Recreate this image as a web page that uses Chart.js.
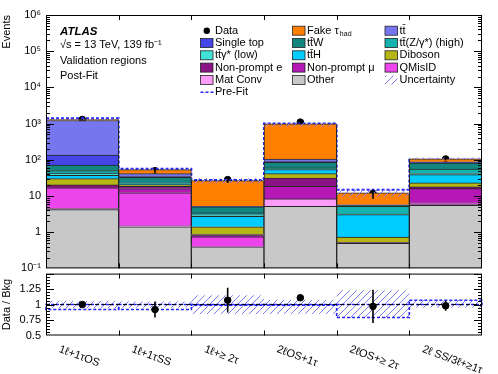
<!DOCTYPE html>
<html>
<head>
<meta charset="utf-8">
<script src="https://cdn.jsdelivr.net/npm/chart.js@4.4.0/dist/chart.umd.min.js"></script>
<style>
  html, body { margin: 0; padding: 0; background: #fff; }
  #wrap { position: relative; width: 498px; height: 374px; }
  .box { position: absolute; left: 0; width: 498px; }
  #mainBox { top: 0; height: 280px; }
  #ratioBox { top: 262px; height: 112px; }
</style>
</head>
<body>
<div id="wrap">
  <div class="box" id="mainBox"><canvas id="main_chart"></canvas></div>
  <div class="box" id="ratioBox"><canvas id="ratio_chart"></canvas></div>
</div>
<script>
// regions (bins)
const regionLabels = ['1ℓ+1τOS', '1ℓ+1τSS', '1ℓ+≥ 2τ', '2ℓOS+1τ', '2ℓOS+≥ 2τ', '2ℓ SS/3ℓ+≥1τ'];

// post-fit background yields, bottom of the stack first
const otherBkg    = [4.2, 1.4, 0.395, 5.2, 0.49, 5.5];
const matConv     = [0.3, 0.1, null, 3.1, null, 0.4];
const qMisId      = [12.2, 10.7, 0.35, null, null, 0.6];
const nonPromptMu = [0.8, 3.8, 0.06, 10.2, null, 9.5];
const nonPromptE  = [2.7, 2.5, 0.06, 12.9, 0.03, 1.8];
const diboson     = [9.9, 2.1, 0.55, 10, 0.21, 5.2];
const ttH         = [7.1, 1.2, 1.35, 11.9, 2.34, 15.8];
const ttGammaLow  = [6.1, 0.8, 0.25, 4, 0.1, 3];
const ttZHigh     = [6.8, 1.2, 0.4, 6, 2.0, 14];
const ttW         = [21.8, 8.9, 1.6, 21.5, 0.3, 25.9];
const singleTop   = [63.6, 1.5, 0.05, 4, 0.05, 1.5];
const ttbar       = [1085, 7.2, 0.1, 16, 0.2, 5];
const fakeTau     = [80, 12, 21.5, 882, 6.5, 19];

// data and pre-fit
const dataEvents = [1300, 50, 28.3, 1097, 11.8, 105];
const dataErr    = [36, 7, 5.3, 33, 3.4, 10];
const preFit     = [1410, 57, 27.5, 1000, 15, 100];

// ratio panel
const ratioData    = [1.0, 0.92, 1.07, 1.11, 0.97, 0.98];
const ratioDataErr = [0.03, 0.13, 0.2, 0.03, 0.27, 0.08];
const ratioPreFit  = [0.92, 0.92, 0.99, 0.99, 0.79, 1.07];
const uncLow       = [0.94, 0.95, 0.845, 0.85, 0.785, 0.95];
const uncHigh      = [1.06, 1.05, 1.15, 1.075, 1.23, 1.075];

const logTickLabels   = ['10⁻¹', '1', '10', '10²', '10³', '10⁴', '10⁵', '10⁶'];
const ratioTickLabels = ['0.5', '0.75', '1', '1.25'];

const samples = [
  { name: 'Other', values: otherBkg, color: '#c8c8c8' },
  { name: 'Mat Conv', values: matConv, color: '#fb9cf8' },
  { name: 'QMisID', values: qMisId, color: '#ec45ec' },
  { name: 'Non-prompt μ', values: nonPromptMu, color: '#b518b5' },
  { name: 'Non-prompt e', values: nonPromptE, color: '#8a1485' },
  { name: 'Diboson', values: diboson, color: '#b5b516' },
  { name: 'tt̄H', values: ttH, color: '#00ccff' },
  { name: 'tt̄γ* (low)', values: ttGammaLow, color: '#40e2d6' },
  { name: 'tt̄(Z/γ*) (high)', values: ttZHigh, color: '#15b3ae' },
  { name: 'tt̄W', values: ttW, color: '#138680' },
  { name: 'Single top', values: singleTop, color: '#4545e8' },
  { name: 'tt̄', values: ttbar, color: '#7676ee' },
  { name: 'Fake τhad', values: fakeTau, color: '#ff7f00' },
];

const FONT = '"Liberation Sans", Arial, sans-serif';
Chart.defaults.font.family = FONT;
Chart.defaults.color = '#000';

function makeHatch(ctx) {
  const c = document.createElement('canvas');
  c.width = 7; c.height = 7;
  const g = c.getContext('2d');
  g.strokeStyle = '#7b7bef';
  g.lineWidth = 1;
  g.beginPath();
  g.moveTo(0, 7); g.lineTo(7, 0);
  g.moveTo(-1, 1); g.lineTo(1, -1);
  g.moveTo(6, 8); g.lineTo(8, 6);
  g.stroke();
  return ctx.createPattern(c, 'repeat');
}

// totals for the hatched band
const totals = regionLabels.map((_, i) => samples.reduce((s, smp) => s + (smp.values[i] || 0), 0));

function isDecade(v) {
  const l = Math.log10(v);
  return Math.abs(l - Math.round(l)) < 1e-6;
}

// frame with inward ticks
function drawFrame(chart, marks) {
  const { ctx, chartArea: a, scales: { x, y } } = chart;
  ctx.save();
  ctx.strokeStyle = '#000';
  ctx.lineWidth = 1;
  ctx.strokeRect(a.left + 0.5, a.top + 0.5, a.width - 1, a.height - 1);
  ctx.beginPath();
  for (let i = 1; i < regionLabels.length; i++) {
    const px = Math.round(x.getPixelForValue(i)) + 0.5;
    ctx.moveTo(px, a.top); ctx.lineTo(px, a.top + 5);
    ctx.moveTo(px, a.bottom); ctx.lineTo(px, a.bottom - 5);
  }
  marks.forEach(([v, len]) => {
    const py = Math.round(y.getPixelForValue(v)) + 0.5;
    if (py < a.top || py > a.bottom) return;
    ctx.moveTo(a.left, py); ctx.lineTo(a.left + len, py);
    ctx.moveTo(a.right, py); ctx.lineTo(a.right - len, py);
  });
  ctx.stroke();
  ctx.restore();
}

function drawHatchBand(chart, lows, highs) {
  const { ctx, chartArea: a, scales: { x, y } } = chart;
  ctx.save();
  ctx.beginPath();
  ctx.rect(a.left, a.top, a.width, a.height);
  ctx.clip();
  ctx.fillStyle = makeHatch(ctx);
  lows.forEach((lo, i) => {
    const x0 = x.getPixelForValue(i), x1 = x.getPixelForValue(i + 1);
    const yTop = y.getPixelForValue(highs[i]), yBot = y.getPixelForValue(lo);
    ctx.fillRect(x0, yTop, x1 - x0, yBot - yTop);
  });
  ctx.restore();
}

function drawErrorBars(chart, values, errs) {
  const { ctx, scales: { x, y } } = chart;
  ctx.save();
  ctx.strokeStyle = '#000';
  ctx.lineWidth = 1.6;
  ctx.beginPath();
  values.forEach((v, i) => {
    const px = x.getPixelForValue(i + 0.5);
    ctx.moveTo(px, y.getPixelForValue(v + errs[i]));
    ctx.lineTo(px, y.getPixelForValue(v - errs[i]));
  });
  ctx.stroke();
  ctx.restore();
}

const legendCols = [200.5, 292.5, 385];
const legendRows = [30.7, 43, 55.3, 67.6, 80, 92.3];
const legendItems = [
  ['Data', 'dot', 0, 0], ['Single top', 'box', 0, 1], ['tt̄γ* (low)', 'box', 0, 2],
  ['Non-prompt e', 'box', 0, 3], ['Mat Conv', 'box', 0, 4], ['Pre-Fit', 'dash', 0, 5],
  ['Fake τhad', 'box', 1, 0], ['tt̄W', 'box', 1, 1], ['tt̄H', 'box', 1, 2],
  ['Non-prompt μ', 'box', 1, 3], ['Other', 'box', 1, 4],
  ['tt̄', 'box', 2, 0], ['tt̄(Z/γ*) (high)', 'box', 2, 1], ['Diboson', 'box', 2, 2],
  ['QMisID', 'box', 2, 3], ['Uncertainty', 'hatch', 2, 4],
];

const mainDecor = {
  id: 'mainDecor',
  afterDatasetDraw(chart, args) {
    if (args.index === samples.length - 1) {
      drawHatchBand(chart, totals.map((t, i) => t * uncLow[i]), totals.map((t, i) => t * uncHigh[i]));
    }
  },
  afterDatasetsDraw(chart) {
    drawErrorBars(chart, dataEvents, dataErr);
  },
  afterDraw(chart) {
    const marks = [];
    for (let e = -1; e <= 5; e++) {
      for (let m = 1; m <= 9; m++) marks.push([m * Math.pow(10, e), m === 1 ? 8 : 4]);
    }
    marks.push([1e6, 8]);
    drawFrame(chart, marks);

    const ctx = chart.ctx;
    ctx.save();
    ctx.fillStyle = '#000';
    ctx.textBaseline = 'middle';
    ctx.font = 'italic bold 11.5px ' + FONT;
    ctx.fillText('ATLAS', 60, 31.7);
    ctx.font = '11px ' + FONT;
    ctx.fillText('√s = 13 TeV, 139 fb⁻¹', 60, 45);
    ctx.fillText('Validation regions', 60, 61);
    ctx.fillText('Post-Fit', 60, 76);

    legendItems.forEach(([label, kind, col, row]) => {
      const x0 = legendCols[col], yc = legendRows[row];
      const smp = samples.find(s => s.name === label);
      if (kind === 'box') {
        ctx.fillStyle = smp.color;
        ctx.fillRect(x0, yc - 4.5, 12.5, 9);
        ctx.strokeStyle = '#222';
        ctx.lineWidth = 0.8;
        ctx.strokeRect(x0, yc - 4.5, 12.5, 9);
      } else if (kind === 'dot') {
        ctx.fillStyle = '#000';
        ctx.beginPath();
        ctx.arc(x0 + 6.3, yc, 3.2, 0, Math.PI * 2);
        ctx.fill();
      } else if (kind === 'dash') {
        ctx.strokeStyle = '#2424ff';
        ctx.lineWidth = 1.6;
        ctx.setLineDash([3, 2]);
        ctx.beginPath();
        ctx.moveTo(x0, yc); ctx.lineTo(x0 + 13, yc);
        ctx.stroke();
        ctx.setLineDash([]);
      } else if (kind === 'hatch') {
        ctx.fillStyle = makeHatch(ctx);
        ctx.fillRect(x0, yc - 4.5, 12.5, 9);
      }
      ctx.fillStyle = '#000';
      ctx.font = '11px ' + FONT;
      if (label === 'Fake τhad') {
        ctx.fillText('Fake τ', x0 + 14.5, yc);
        const w = ctx.measureText('Fake τ').width;
        ctx.font = '7px ' + FONT;
        ctx.fillText('had', x0 + 15.5 + w, yc + 3);
      } else {
        ctx.fillText(label, x0 + 14.5, yc);
      }
    });
    ctx.restore();
  }
};

const ratioDecor = {
  id: 'ratioDecor',
  beforeDatasetsDraw(chart) {
    drawHatchBand(chart, uncLow, uncHigh);
    const { ctx, scales: { x, y } } = chart;
    ctx.save();
    ctx.strokeStyle = '#2424ff';
    ctx.lineWidth = 1.6;
    ctx.setLineDash([3, 2]);
    ratioPreFit.forEach((r, i) => {
      const x0 = x.getPixelForValue(i), x1 = x.getPixelForValue(i + 1);
      const y0 = y.getPixelForValue(1), y1 = y.getPixelForValue(r);
      ctx.strokeRect(x0, Math.min(y0, y1), x1 - x0, Math.abs(y1 - y0));
    });
    ctx.restore();
  },
  afterDatasetsDraw(chart) {
    drawErrorBars(chart, ratioData, ratioDataErr);
  },
  afterDraw(chart) {
    const marks = [];
    for (let k = 0; k <= 20; k++) marks.push([0.5 + k * 0.05, k % 5 === 0 ? 8 : 4]);
    drawFrame(chart, marks);
    const { ctx, scales: { x } } = chart;
    ctx.save();
    ctx.fillStyle = '#000';
    ctx.font = '11px ' + FONT;
    ctx.textBaseline = 'middle';
    ctx.textAlign = 'left';
    regionLabels.forEach((lab, i) => {
      ctx.save();
      ctx.translate(x.getPixelForValue(i + 0.5) - 23, 87);
      ctx.rotate(0.35);
      ctx.fillText(lab, 0, 0);
      ctx.restore();
    });
    ctx.restore();
  }
};

const xScale = {
  type: 'linear', min: 0, max: regionLabels.length, stacked: true, offset: false,
  afterBuildTicks(s) { s.ticks = regionLabels.map((_, i) => ({ value: i })).concat([{ value: regionLabels.length }]); },
  afterFit(s) { s.height = 0; },
  ticks: { display: false },
  grid: { display: false, drawTicks: false, offset: false },
  border: { display: false },
};

// main panel
const barSets = samples.map(smp => ({
  type: 'bar',
  label: smp.name,
  data: smp.values.map((v, i) => ({ x: i + 0.5, y: v })),
  backgroundColor: smp.color,
  borderColor: '#262626',
  borderWidth: 1,
  barPercentage: 1,
  categoryPercentage: 1,
}));

const preFitStep = preFit.map((v, i) => ({ x: i, y: v })).concat([{ x: preFit.length, y: preFit[preFit.length - 1] }]);

new Chart(document.getElementById('main_chart').getContext('2d'), {
  data: {
    datasets: barSets.concat([
      {
        type: 'line', label: 'Pre-Fit', stack: 'prefit', data: preFitStep, stepped: true,
        borderColor: '#2424ff', borderWidth: 2, borderDash: [3, 2], pointRadius: 0, fill: false,
      },
      {
        type: 'line', label: 'Data', stack: 'data', showLine: false,
        data: dataEvents.map((v, i) => ({ x: i + 0.5, y: v })),
        pointRadius: 3.3, pointBackgroundColor: '#000', pointBorderColor: '#000',
      },
    ]),
  },
  options: {
    responsive: true,
    maintainAspectRatio: false,
    animation: false,
    layout: { padding: { top: 15, right: 16, bottom: 11, left: 0 } },
    plugins: { legend: { display: false }, tooltip: { enabled: false } },
    scales: {
      x: xScale,
      y: {
        type: 'logarithmic', min: 0.1, max: 1e6, stacked: true,
        afterFit(s) { s.width = 46; },
        grid: { display: false, drawTicks: false },
        border: { display: false },
        ticks: {
          autoSkip: false, padding: 5, font: { size: 11 },
          callback: v => isDecade(v) ? logTickLabels[Math.round(Math.log10(v)) + 1] : '',
        },
        title: { display: true, text: 'Events', align: 'end', font: { size: 11 }, padding: { top: 0, bottom: 0 } },
      },
    },
  },
  plugins: [mainDecor],
});

// ratio panel
new Chart(document.getElementById('ratio_chart').getContext('2d'), {
  data: {
    datasets: [
      {
        type: 'line', label: 'one', data: [{ x: 0, y: 1 }, { x: regionLabels.length, y: 1 }],
        borderColor: '#000', borderWidth: 1, borderDash: [4, 3], pointRadius: 0,
      },
      {
        type: 'line', label: 'Data / Bkg', showLine: false,
        data: ratioData.map((v, i) => ({ x: i + 0.5, y: v })),
        pointRadius: 3.3, pointBackgroundColor: '#000', pointBorderColor: '#000',
      },
    ],
  },
  options: {
    responsive: true,
    maintainAspectRatio: false,
    animation: false,
    layout: { padding: { top: 7, right: 16, bottom: 38.5, left: 0 } },
    plugins: { legend: { display: false }, tooltip: { enabled: false } },
    scales: {
      x: Object.assign({}, xScale, { stacked: false }),
      y: {
        type: 'linear', min: 0.5, max: 1.5,
        afterFit(s) { s.width = 46; },
        afterBuildTicks(s) { s.ticks = ratioTickLabels.map(t => ({ value: parseFloat(t) })); },
        grid: { display: false, drawTicks: false },
        border: { display: false },
        ticks: { autoSkip: false, padding: 5, font: { size: 11 }, callback: (v, i) => ratioTickLabels[i] },
        title: { display: true, text: 'Data / Bkg', font: { size: 11 }, padding: { top: 0, bottom: 0 } },
      },
    },
  },
  plugins: [ratioDecor],
});
</script>
</body>
</html>
